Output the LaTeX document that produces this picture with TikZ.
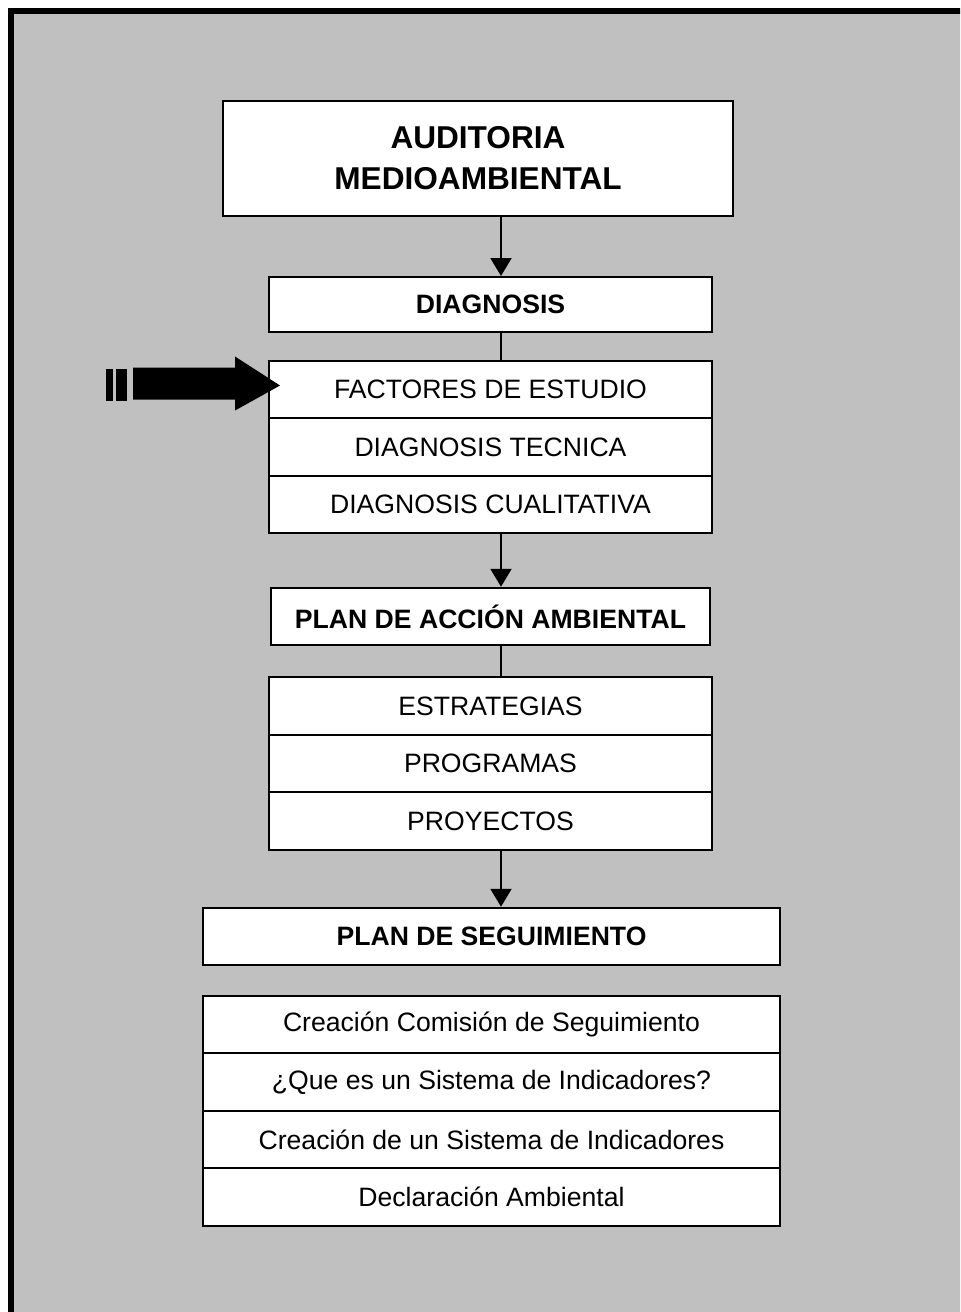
\documentclass[tikz,border=0pt]{standalone}
\usepackage{fontspec}
\setmainfont{Liberation Sans}
\usetikzlibrary{arrows.meta}
\definecolor{fondo}{RGB}{192,192,192}

\tikzset{
  caja/.style={draw,fill=white,line width=1pt,inner sep=0pt,
    minimum width=221.5pt,minimum height=28.75pt,
    font=\fontsize{13.3}{16}\selectfont},
  titulo/.style={caja,font=\fontsize{13.3}{16}\selectfont\bfseries},
  flecha/.style={line width=1pt,-{Triangle[width=10.5pt,length=9pt]}},
  enlace/.style={line width=1pt}
}

\begin{document}
\begin{tikzpicture}[x=0.5pt,y=-0.5pt]
\useasboundingbox (0,0) rectangle (960,1312);
\clip (0,0) rectangle (960,1312);
\fill [white] (0,0) rectangle (960,1312);
\draw [fill=fondo,line width=3pt] (11,11) rectangle (1000,1350);

\coordinate (eje) at (501,0);

\node (audit) at (478,158.5) [caja,minimum width=255pt,minimum height=57.5pt,
  align=center,font=\fontsize{15.8}{20.5}\selectfont\bfseries] {AUDITORIA\\MEDIOAMBIENTAL};
\node (diag) at (490.5,304.5) [titulo,minimum height=27.5pt] {DIAGNOSIS};
\node (fac) at (490.5,389.5) [caja] {FACTORES DE ESTUDIO};
\node (tec) at (490.5,447) [caja] {DIAGNOSIS TECNICA};
\node (cual) at (490.5,504.5) [caja] {DIAGNOSIS CUALITATIVA};

\node (pac) at (490.5,616.5) [titulo,minimum width=219.5pt] {PLAN DE ACCIÓN AMBIENTAL};
\node (est) at (490.5,706) [caja] {ESTRATEGIAS};
\node (prog) at (490.5,763.5) [caja] {PROGRAMAS};
\node (proy) at (490.5,821) [caja] {PROYECTOS};

\node (pseg) at (491.5,936.5) [titulo,minimum width=288.5pt] {PLAN DE SEGUIMIENTO};
\node (com) at (491.5,1024.5) [caja,minimum width=288.5pt] {Creación Comisión de Seguimiento};
\node (que) at (491.5,1082) [caja,minimum width=288.5pt] {¿Que es un Sistema de Indicadores?};
\node (crea) at (491.5,1139.5) [caja,minimum width=288.5pt] {Creación de un Sistema de Indicadores};
\node (decl) at (491.5,1197) [caja,minimum width=288.5pt] {Declaración Ambiental};

\draw [flecha] (audit.south -| eje) -- (diag.north -| eje);
\draw [enlace] (diag.south -| eje) -- (fac.north -| eje);
\draw [flecha] (cual.south -| eje) -- (pac.north -| eje);
\draw [enlace] (pac.south -| eje) -- (est.north -| eje);
\draw [flecha] (proy.south -| eje) -- (pseg.north -| eje);

% flecha gruesa hacia FACTORES
\coordinate (punta) at (280,385.5);
\fill (punta) -- ++(-45,-29) -- ++(0,11) -- ++(-102,0) -- ++(0,32)
  -- ++(102,0) -- ++(0,11) -- cycle;
\fill (106,369) rectangle (113,401);
\fill (116,369) rectangle (127,401);
\end{tikzpicture}
\end{document}
